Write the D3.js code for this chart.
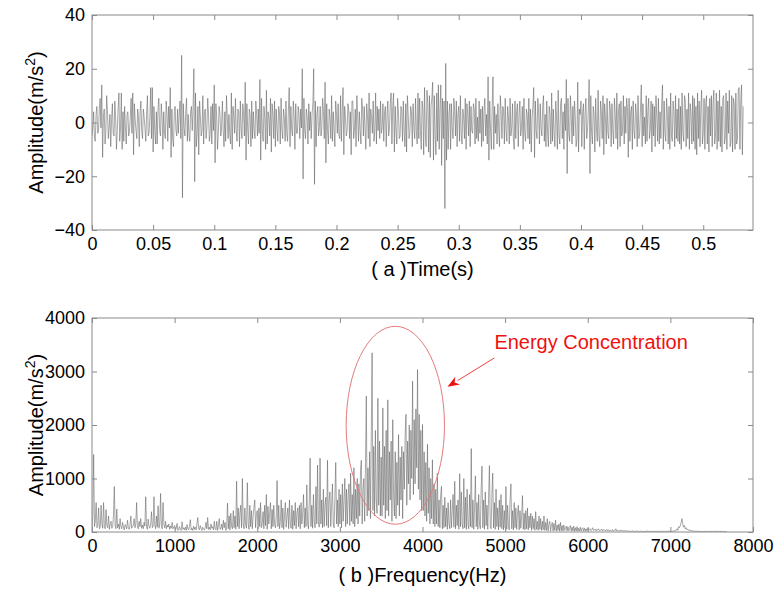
<!DOCTYPE html>
<html>
<head>
<meta charset="utf-8">
<script src="https://cdn.jsdelivr.net/npm/d3@7"></script>
<style>
  html, body { margin: 0; padding: 0; background: #fff; }
  svg { display: block; }
  text { font-family: Arial, "Liberation Sans", sans-serif; }
</style>
</head>
<body>
<svg id="chart" width="780" height="593"></svg>
<script>
// ---------- DATA ----------
// (a) time signal, one value every timeStep seconds
const timeStep = 1 / 1500;
const timeValues = [
  -5, -2, 4, -6, -7, 3, 6, -4, -3, 5, 9, -2, 14, -13, 2, 5, -8, -3, 10, 4, -6, -2, 3, -9, 1, 7, -4, -5, 8, 2, -10, -3, 5, 11, -7, -2, 11, -10, 4, -7,
  6, -2, -8, 3, 4, -5, -3, 2, 9, -4, 11, -12, 7, 1, -3, -6, 5, 2, -9, 4, 8, -3, -6, 5, 2, -2, -7, 3, 10, -5, -4, 2, 13, -6, 13, -11, 6, -3, -8, 4,
  -8, 5, 9, -3, -5, 7, 2, -10, 4, -4, -6, 8, 3, -7, 6, -2, 13, -13, 5, -6, -9, 4, 6, -3, -5, 5, -4, 3, 8, -6, 25, -28, 7, -2, -5, 4, 9, -7, 3, -5,
  -7, 4, 6, -3, 5, 20, -22, 11, -9, -4, 6, -12, 8, 2, -5, -3, 10, -8, 4, 5, -6, -2, 9, 3, -7, -4, 6, -8, 7, -3, 14, -15, 7, 2, -10, -4, 6, 3, -5, -2,
  8, -3, -9, 4, -7, 10, 2, -6, 3, -4, -8, 11, -10, 6, 2, -4, 9, -3, -7, 5, 4, -9, 8, -2, -6, 7, 3, -5, 15, -14, 7, -2, -8, 5, 3, -9, 8, -6, 4, -3,
  -6, 8, 3, -5, 5, -4, 16, -14, 9, -3, -7, 6, 2, -10, 12, -8, 4, 2, -5, 9, -11, 7, 3, -6, 8, -9, 5, -2, -7, 6, 4, -8, 9, -3, -6, 5, 2, -7, 8, -4,
  -7, 5, 13, -9, 6, -3, -5, 8, 2, -10, 7, -4, -4, 6, 3, -6, 5, -2, 20, -21, 9, -3, -6, 5, 2, -8, 7, -3, 4, -6, 3, 7, 20, -23, 8, -9, 3, 6, -5, -2,
  6, -5, -2, 9, 4, -6, 15, -15, 7, -3, -8, 5, 2, -6, 10, -7, 4, -2, -9, 8, 3, -4, 7, -5, -6, 10, -7, 4, 13, -12, 6, 2, -5, -3, 7, 5, -6, 4, -12, 8,
  8, -6, -3, 5, -9, 10, 2, -7, 4, -3, -8, 9, 5, -5, 6, -2, -10, 7, 3, -6, 11, -9, 5, 2, -4, 8, -7, -3, 11, -8, 6, -3, 5, -6, 8, -4, -2, 7, -7, 4,
  6, -9, 3, 8, -5, -2, 7, 11, -8, 6, 11, -11, 6, -3, -8, 9, 4, -6, -5, 6, 5, -7, 8, -3, -9, 7, -11, 10, 3, -6, -4, 6, 4, -9, 7, -2, -6, 9, -3, -8,
  11, -6, 9, -3, -10, 8, 5, -12, 13, -4, -9, 12, 7, -11, 10, -13, 6, 9, 15, -14, 10, -5, -12, 11, -7, 14, -10, 5, 14, -16, 9, -6, 8, -32, 22, -14, 8, -10, 3, 7,
  -10, 7, -2, -6, 9, 4, -5, 8, -9, 3, 6, -7, 10, -4, -8, 5, 2, -6, 9, -10, 7, 3, -5, 8, -9, 6, -3, -4, 7, 5, -8, 9, -6, 2, -7, 8, -4, 5, -9, 6,
  -7, 4, 9, -5, 3, -8, 17, -14, 8, -3, -10, 6, 17, -10, 6, -4, 3, -8, 7, -2, -9, 10, 4, -6, 6, 5, -8, 9, -3, -7, 6, 2, -8, 9, -5, -2, 7, -6, -10, 8,
  -6, 4, 7, -9, 3, 8, -5, -2, 6, -10, 9, -4, -7, 5, 3, -6, 9, -8, 5, -11, 2, 6, 13, -13, 8, -3, -6, 9, 4, -8, 7, -2, -5, 6, 10, -7, 3, -9, 8, -4,
  -9, 6, 3, -8, 11, -7, 5, -4, -9, 8, 2, -10, 12, -5, -8, 7, 9, -6, 4, -10, 7, -3, 16, -19, 9, -4, -7, 10, 3, -8, 6, -5, 8, 2, -9, -6, 15, -11, 5, 3,
  8, -9, 4, 7, -10, 3, 9, -6, -3, 5, 16, -19, 10, -4, -8, 6, 3, -11, 9, -2, -7, 12, -5, -9, 8, 4, -6, 10, -12, 7, 2, -8, 9, -4, -6, 8, 5, -9, 7, -3,
  -8, 9, 3, -6, 11, -10, 4, 7, -9, 8, -5, -3, 10, -8, 6, -4, 9, 5, -13, 9, -7, 4, 6, -10, 8, -3, -6, 7, 3, -9, 10, -6, -4, 5, 14, -9, 7, -5, 2, -8,
  10, -7, 4, 9, -6, -3, 8, -11, 7, -5, 6, -9, 10, 2, -7, 9, -8, 4, -6, 7, 14, -10, 8, -4, -7, 9, 3, -8, 6, -10, 11, -5, -7, 8, 4, -9, 10, -6, 5, -7,
  9, -8, 6, -10, 11, -4, -7, 10, 8, -9, 5, -6, 11, -10, 7, 3, -8, 10, -7, 9, -10, 6, -12, 11, -6, 8, -9, 5, 12, -8, -4, 9, -10, 7, 10, -8, 6, -11, 9, -5,
  10, -9, 7, 12, -8, -5, 11, -10, 8, -7, 12, -9, 6, -11, 9, 10, -8, -6, 11, -10, 8, -4, 12, -9, -7, 10, -11, 9, 7, -10, 11, -8, -6, 12, 13, -10, 8, 14, -12, 6
];
const timeTicks = [0, 0.05, 0.1, 0.15, 0.2, 0.25, 0.3, 0.35, 0.4, 0.45, 0.5];
const ampTicks = [-40, -20, 0, 20, 40];

// (b) amplitude spectrum, one value every freqStep Hz
const freqStep = 10;
const specValues = [
  60, 300, 1450, 100, 200, 550, 80, 120, 450, 60, 90, 500, 150, 70, 550, 100, 60, 420, 120, 80, 300, 50, 150, 200, 70, 100, 300, 850, 120, 60, 430, 80, 150, 50, 250, 100, 60, 180, 90, 40, 140, 100, 60, 220, 80, 50, 120, 300, 70, 110,
  120, 250, 80, 150, 550, 90, 60, 200, 100, 250, 70, 130, 60, 180, 110, 660, 90, 50, 240, 100, 70, 150, 380, 80, 110, 660, 130, 60, 300, 90, 490, 70, 150, 720, 110, 60, 550, 150, 80, 200, 60, 130, 90, 150, 50, 110, 70, 180, 60, 90,
  120, 40, 70, 160, 30, 60, 100, 40, 30, 190, 50, 80, 40, 90, 30, 140, 60, 40, 110, 230, 40, 70, 30, 110, 50, 90, 40, 150, 270, 70, 40, 120, 60, 30, 90, 50, 40, 80, 180, 60, 270, 50, 90, 40, 150, 70, 100, 40, 200, 60,
  40, 200, 30, 120, 250, 50, 60, 150, 40, 220, 80, 180, 30, 90, 540, 60, 300, 40, 350, 100, 60, 400, 80, 300, 50, 950, 100, 450, 60, 350, 500, 80, 1000, 150, 60, 450, 120, 70, 920, 150, 50, 500, 100, 400, 60, 300, 450, 600, 80, 350,
  400, 60, 450, 100, 550, 80, 150, 380, 60, 500, 120, 700, 50, 480, 150, 350, 550, 60, 420, 100, 500, 150, 80, 300, 960, 100, 500, 60, 200, 600, 80, 450, 50, 300, 550, 90, 300, 450, 60, 600, 150, 70, 500, 50, 400, 120, 550, 60, 350, 450,
  100, 500, 60, 550, 150, 350, 700, 80, 450, 100, 880, 150, 60, 600, 1380, 100, 500, 70, 700, 200, 80, 850, 150, 1250, 200, 90, 1380, 150, 600, 80, 800, 100, 500, 650, 120, 1340, 80, 600, 750, 100, 500, 900, 150, 80, 650, 1300, 150, 600, 100, 800,
  150, 700, 80, 900, 200, 600, 1000, 100, 800, 150, 650, 900, 120, 1100, 200, 700, 150, 1200, 100, 800, 250, 1000, 150, 900, 300, 1150, 1340, 150, 800, 1000, 200, 1300, 2540, 300, 1200, 400, 1500, 250, 1800, 3350, 400, 1600, 300, 1900, 600, 350, 2500, 500, 1700, 300,
  1400, 300, 2320, 500, 1600, 250, 1900, 400, 2470, 300, 1500, 600, 1700, 200, 2100, 700, 300, 1500, 250, 1300, 500, 1820, 300, 1400, 600, 1600, 250, 1500, 800, 1800, 2200, 500, 1700, 900, 2000, 600, 1900, 1000, 2820, 700, 2100, 900, 2300, 1200, 3036, 800, 2200, 600, 1900, 400,
  2010, 400, 1500, 300, 1300, 200, 1640, 350, 1200, 150, 1000, 250, 1350, 150, 900, 100, 800, 150, 1100, 100, 600, 80, 700, 855, 60, 500, 80, 650, 100, 450, 50, 550, 150, 60, 600, 80, 400, 700, 90, 947, 60, 500, 120, 600, 50, 1090, 100, 750, 150, 60,
  1000, 80, 650, 50, 800, 150, 60, 700, 100, 1560, 80, 600, 50, 450, 1050, 100, 550, 50, 700, 150, 60, 800, 1230, 80, 600, 50, 750, 120, 500, 50, 650, 1240, 100, 60, 700, 1100, 80, 550, 50, 800, 100, 450, 40, 600, 90, 700, 60, 500, 40, 400,
  80, 850, 50, 500, 120, 40, 600, 900, 60, 400, 40, 550, 80, 450, 50, 350, 500, 40, 400, 70, 300, 680, 50, 350, 40, 400, 60, 450, 40, 300, 80, 350, 30, 300, 60, 250, 30, 380, 50, 200, 30, 300, 50, 250, 30, 200, 40, 300, 30, 180,
  30, 250, 20, 150, 200, 20, 120, 180, 20, 160, 30, 220, 20, 130, 30, 150, 20, 180, 25, 120, 20, 130, 30, 70, 110, 20, 100, 25, 60, 120, 20, 90, 20, 110, 15, 80, 20, 100, 15, 70, 20, 90, 15, 60, 80, 15, 70, 15, 60, 20,
  70, 30, 50, 60, 25, 45, 80, 30, 40, 55, 20, 50, 35, 60, 25, 40, 30, 55, 20, 45, 30, 35, 20, 50, 25, 40, 15, 35, 30, 20, 45, 15, 30, 25, 60, 20, 35, 15, 30, 25, 20, 40, 15, 25, 20, 30, 15, 25, 20, 15,
  15, 20, 10, 12, 25, 10, 15, 8, 12, 20, 10, 15, 8, 12, 10, 18, 8, 10, 12, 8, 15, 10, 20, 8, 12, 10, 15, 8, 10, 12, 8, 20, 10, 12, 8, 15, 10, 12, 8, 10, 25, 8, 12, 10, 15, 8, 10, 12, 20, 10,
  12, 15, 10, 20, 12, 30, 15, 40, 60, 30, 100, 80, 120, 180, 250, 150, 90, 120, 60, 80, 40, 55, 30, 40, 20, 35, 15, 25, 12, 20, 15, 10, 18, 8, 12, 10, 15, 8, 12, 10, 8, 12, 10, 15, 8, 10, 12, 8, 10, 15,
  10, 12, 8, 15, 10, 20, 8, 12, 10, 8, 15, 10, 12, 8, 10, 12, 8, 10, 12
];
const freqTicks = [0, 1000, 2000, 3000, 4000, 5000, 6000, 7000, 8000];
const specTicks = [0, 1000, 2000, 3000, 4000];

const annoText = "Energy Concentration";

// ---------- DRAWING ----------
const svg = d3.select("#chart");
svg.append("rect").attr("width", 780).attr("height", 593).attr("fill", "#fff");

const axisColor = "#8a8a8a";
const lineColor = "#606060";
const tickFont = 18;
const labelFont = 20;
const tickLen = 5;

function panel(opts) {
  const { x0, x1, y0, y1, xDomain, yDomain, xTicks, yTicks, xFmt, values, step, xLabel, xLabelY } = opts;
  const x = d3.scaleLinear().domain(xDomain).range([x0, x1]);
  const y = d3.scaleLinear().domain(yDomain).range([y1, y0]);
  const g = svg.append("g");

  const clipId = "clip" + Math.round(y0);
  svg.append("clipPath").attr("id", clipId)
    .append("rect").attr("x", x0).attr("y", y0).attr("width", x1 - x0).attr("height", y1 - y0);
  g.append("path")
    .datum(values)
    .attr("clip-path", `url(#${clipId})`)
    .attr("fill", "none")
    .attr("stroke", lineColor)
    .attr("stroke-width", 0.55)
    .attr("stroke-linejoin", "round")
    .attr("d", d3.line().x((d, i) => x(i * step)).y(d => y(d)));

  const bottom = g.append("g").attr("transform", `translate(0,${y1})`)
    .call(d3.axisBottom(x).tickValues(xTicks).tickSizeInner(-tickLen).tickSizeOuter(0).tickPadding(7).tickFormat(xFmt));
  const top = g.append("g").attr("transform", `translate(0,${y0})`)
    .call(d3.axisTop(x).tickValues(xTicks).tickSizeInner(-tickLen).tickSizeOuter(0).tickFormat(""));
  const left = g.append("g").attr("transform", `translate(${x0},0)`)
    .call(d3.axisLeft(y).tickValues(yTicks).tickSizeInner(-tickLen).tickSizeOuter(0).tickPadding(7).tickFormat(d3.format("d")));
  const right = g.append("g").attr("transform", `translate(${x1},0)`)
    .call(d3.axisRight(y).tickValues(yTicks).tickSizeInner(-tickLen).tickSizeOuter(0).tickFormat(""));
  [bottom, top, left, right].forEach(a => {
    a.select(".domain").remove();
    a.selectAll(".tick line").attr("stroke", axisColor);
    a.selectAll("text").attr("fill", "#000").attr("font-size", tickFont)
      .attr("font-family", "Arial, 'Liberation Sans', sans-serif");
  });
  g.append("rect").attr("x", x0).attr("y", y0).attr("width", x1 - x0).attr("height", y1 - y0)
    .attr("fill", "none").attr("stroke", axisColor).attr("stroke-width", 1);

  const yl = svg.append("text")
    .attr("transform", `translate(43,${(y0 + y1) / 2}) rotate(-90)`)
    .attr("text-anchor", "middle").attr("font-size", labelFont).attr("fill", "#000");
  yl.append("tspan").text("Amplitude(m/s");
  yl.append("tspan").attr("dy", -8).attr("font-size", 14).text("2");
  yl.append("tspan").attr("dy", 8).text(")");

  svg.append("text").attr("x", (x0 + x1) / 2).attr("y", xLabelY)
    .attr("text-anchor", "middle").attr("font-size", labelFont).attr("fill", "#000")
    .text(xLabel);
  return { x, y, g };
}

const timeFmt = d => d === 0 ? "0" : String(+d.toFixed(2));
const pa = panel({
  x0: 92, x1: 753, y0: 15, y1: 230,
  xDomain: [0, 0.5407], yDomain: [-40, 40],
  xTicks: timeTicks, yTicks: ampTicks, xFmt: timeFmt,
  values: timeValues, step: timeStep, xLabel: "( a )Time(s)", xLabelY: 276
});

const pb = panel({
  x0: 92, x1: 753, y0: 318, y1: 532,
  xDomain: [0, 8000], yDomain: [0, 4000],
  xTicks: freqTicks, yTicks: specTicks, xFmt: d3.format("d"),
  values: specValues, step: freqStep, xLabel: "( b )Frequency(Hz)", xLabelY: 582
});

// annotation (positions in data units of panel b)
const ex = pb.x, ey = pb.y;
const ellC = [3671, 1995], ellR = [595, 1850];
svg.append("ellipse")
  .attr("cx", ex(ellC[0])).attr("cy", ey(ellC[1]))
  .attr("rx", ex(ellC[0] + ellR[0]) - ex(ellC[0]))
  .attr("ry", ey(ellC[1]) - ey(ellC[1] + ellR[1]))
  .attr("fill", "none").attr("stroke", "#e47a7c").attr("stroke-width", 1);

const arrFrom = [4870, 3254], arrTo = [4302, 2713];
const ax1 = ex(arrFrom[0]), ay1 = ey(arrFrom[1]), ax2 = ex(arrTo[0]), ay2 = ey(arrTo[1]);
const ang = Math.atan2(ay2 - ay1, ax2 - ax1);
const hl = 12, hw = 4.5;
const bx = ax2 - hl * Math.cos(ang), by = ay2 - hl * Math.sin(ang);
svg.append("line").attr("x1", ax1).attr("y1", ay1).attr("x2", bx).attr("y2", by)
  .attr("stroke", "#f04040").attr("stroke-width", 1);
svg.append("path")
  .attr("d", `M${ax2},${ay2} L${bx - hw * Math.sin(ang)},${by + hw * Math.cos(ang)} L${ax2 - hl * 0.7 * Math.cos(ang)},${ay2 - hl * 0.7 * Math.sin(ang)} L${bx + hw * Math.sin(ang)},${by - hw * Math.cos(ang)} Z`)
  .attr("fill", "#ee1111");

svg.append("text").attr("x", ex(4870)).attr("y", ey(3420))
  .attr("font-size", 20).attr("fill", "#ee1111").text(annoText);
</script>
</body>
</html>
